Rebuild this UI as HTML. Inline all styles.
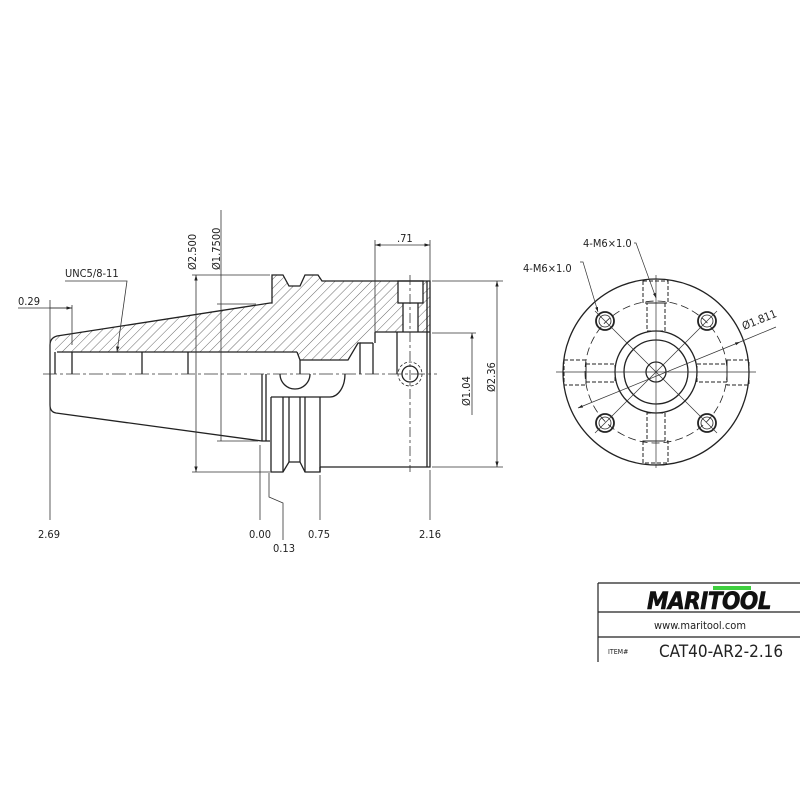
<!DOCTYPE html>
<html><head><meta charset="utf-8"><style>
html,body{margin:0;padding:0;background:#fff;}
svg{display:block;}
text{font-family:"DejaVu Sans Condensed","DejaVu Sans","Liberation Sans",sans-serif;fill:#222;}
</style></head><body>
<svg width="800" height="800" viewBox="0 0 800 800" xmlns="http://www.w3.org/2000/svg">
<defs>
<pattern id="h" patternUnits="userSpaceOnUse" width="6.5" height="6.5" patternTransform="rotate(45)">
<line x1="0" y1="0" x2="0" y2="6.5" stroke="#444" stroke-width="0.8"/>
</pattern>
<marker id="a" viewBox="0 0 10 10" refX="10" refY="5" markerWidth="7" markerHeight="7" orient="auto-start-reverse"><path d="M0,2 L10,5 L0,8 z" fill="#222"/></marker>
</defs>
<g fill="none" stroke="#222" stroke-width="1.3">
<path d="M55,336 L270,303 L272,303 L272,275 L283,275 L289,286 L300,286 L305,275 L318,275 L322,281 L398,281 L398,303 L403,303 L403,332 L375,332 L375,333 L360,343 L358,343 L348,360 L300,360 L297,352 L72,352 L55,352 Z" fill="url(#h)" stroke="none"/>
<path d="M418,303 L423,303 L423,281 L430,281 L430,332 L418,332 Z" fill="url(#h)" stroke="none"/>
<path d="M50,374 L50,345 Q50,338 57,336 L270,303 L272,303 L272,275 L283,275 L289,286 L300,286 L305,275 L318,275 L322,281 L430,281 L430,467 L320,467"/>
<path d="M50,374 L50,405 Q50,412 56,413 L262,441 L270,441"/>
<line x1="57" y1="352" x2="297" y2="352"/>
<path d="M297,352 L300,360 L348,360 L358,343 L360,343 L360,374"/>
<line x1="360" y1="343" x2="373" y2="343"/><line x1="373" y1="343" x2="373" y2="374"/>
<line x1="375" y1="332" x2="430" y2="332"/><line x1="375" y1="332" x2="375" y2="343"/>
<line x1="397" y1="332" x2="397" y2="374"/>
<rect x="398" y="281" width="25" height="22"/>
<line x1="403" y1="303" x2="403" y2="332"/><line x1="418" y1="303" x2="418" y2="332"/>
<line x1="55" y1="352" x2="55" y2="374"/><line x1="72" y1="352" x2="72" y2="374"/>
<line x1="142" y1="352" x2="142" y2="374"/><line x1="188" y1="352" x2="188" y2="374"/>
<line x1="300" y1="360" x2="300" y2="374"/>
<line x1="427" y1="281" x2="427" y2="467"/>
<circle cx="410" cy="374" r="8"/>
<circle cx="410" cy="374" r="12" stroke-dasharray="3 2" stroke-width="0.8"/>
<line x1="262" y1="374" x2="262" y2="441"/><line x1="266" y1="374" x2="266" y2="441"/>
<path d="M280,374 A15,15 0 0 0 310,374"/>
<path d="M271,397 L330,397 A15,23 0 0 0 345,374"/>
<path d="M271,397 L271,472 L283,472 L289,462 L300,462 L305,472 L320,472 L320,397"/>
<line x1="283" y1="397" x2="283" y2="472"/><line x1="289" y1="397" x2="289" y2="462"/>
<line x1="300" y1="397" x2="300" y2="462"/><line x1="305" y1="397" x2="305" y2="472"/>
<line x1="320" y1="467" x2="320" y2="472"/>
</g>
<line x1="43" y1="374" x2="437" y2="374" stroke="#333" stroke-width="0.8" stroke-dasharray="14 3 3 3"/>
<line x1="410" y1="275" x2="410" y2="472" stroke="#333" stroke-width="0.8" stroke-dasharray="10 3 3 3"/>
<g stroke="#333" stroke-width="0.8" fill="none">
<line x1="50" y1="300" x2="50" y2="520"/><line x1="72" y1="305" x2="72" y2="345"/>
<line x1="18" y1="308" x2="72" y2="308"/><line x1="50" y1="308" x2="72" y2="308" marker-end="url(#a)"/>
<line x1="260" y1="445" x2="260" y2="520"/><line x1="320" y1="475" x2="320" y2="520"/><line x1="430" y1="470" x2="430" y2="520"/>
<path d="M269,473 L269,497 L283,503 L283,540"/>
<line x1="192" y1="275" x2="270" y2="275"/><line x1="192" y1="472" x2="270" y2="472"/>
<line x1="196" y1="275" x2="196" y2="472" marker-start="url(#a)" marker-end="url(#a)"/>
<line x1="217" y1="304" x2="256" y2="304"/><line x1="217" y1="441" x2="258" y2="441"/>
<line x1="221" y1="210" x2="221" y2="441"/>
<line x1="375" y1="240" x2="375" y2="333"/><line x1="430" y1="240" x2="430" y2="281"/>
<line x1="375" y1="245" x2="430" y2="245" marker-start="url(#a)" marker-end="url(#a)"/>
<line x1="432" y1="281" x2="503" y2="281"/><line x1="432" y1="467" x2="503" y2="467"/>
<line x1="497" y1="281" x2="497" y2="467" marker-start="url(#a)" marker-end="url(#a)"/>
<line x1="432" y1="333" x2="476" y2="333"/>
<line x1="472" y1="333" x2="472" y2="415" marker-start="url(#a)"/>
<path d="M65,281 L127,281 L117,352" marker-end="url(#a)"/>
</g>
<g font-size="11">
<text x="18" y="305">0.29</text>
<text x="65" y="277">UNC5/8-11</text>
<text x="38" y="538">2.69</text>
<text x="249" y="538">0.00</text>
<text x="273" y="552">0.13</text>
<text x="308" y="538">0.75</text>
<text x="419" y="538">2.16</text>
<text x="397" y="242">.71</text>
<text transform="translate(196,270) rotate(-90)">Ø2.500</text>
<text transform="translate(220,270) rotate(-90)">Ø1.7500</text>
<text transform="translate(495,392) rotate(-90)">Ø2.36</text>
<text transform="translate(470,406) rotate(-90)">Ø1.04</text>
</g>
<g fill="none" stroke="#222" stroke-width="1.3">
<circle cx="656" cy="372" r="93"/>
<circle cx="656" cy="372" r="41"/>
<circle cx="656" cy="372" r="32"/>
<circle cx="656" cy="372" r="10"/>
<circle cx="656" cy="372" r="71" stroke-width="0.8" stroke-dasharray="8 4"/>
<g stroke-width="1.8">
<circle cx="605" cy="321" r="9"/><circle cx="707" cy="321" r="9"/><circle cx="605" cy="423" r="9"/><circle cx="707" cy="423" r="9"/>
</g>
<g stroke-width="0.8">
<circle cx="605" cy="321" r="6"/><circle cx="707" cy="321" r="6"/><circle cx="605" cy="423" r="6"/><circle cx="707" cy="423" r="6"/>
</g>
<g stroke-dasharray="4 2" stroke-width="1">
<rect x="643" y="281" width="25" height="22"/><rect x="647" y="303" width="18" height="28"/>
<rect x="643" y="441" width="25" height="22"/><rect x="647" y="413" width="18" height="28"/>
<rect x="564" y="360" width="22" height="25"/><rect x="586" y="364" width="29" height="18"/>
<rect x="727" y="360" width="22" height="25"/><rect x="697" y="364" width="30" height="18"/>
</g>
</g>
<g stroke="#333" stroke-width="0.7" fill="none">
<line x1="556" y1="372" x2="756" y2="372"/><line x1="656" y1="275" x2="656" y2="468"/>
<line x1="595" y1="311" x2="717" y2="433"/><line x1="717" y1="311" x2="595" y2="433"/>
<line x1="578" y1="408" x2="740" y2="342" marker-start="url(#a)" marker-end="url(#a)"/>
<line x1="740" y1="342" x2="776" y2="327"/>
<path d="M580,262 L583,262 L598,312" marker-end="url(#a)"/>
<path d="M634,243 L636,243 L656,298" marker-end="url(#a)"/>
</g>
<g font-size="11">
<text x="583" y="247">4-M6×1.0</text>
<text x="523" y="272">4-M6×1.0</text>
<text transform="translate(744,330) rotate(-22)">Ø1.811</text>
</g>
<g stroke="#222" stroke-width="1.2">
<line x1="598" y1="583" x2="800" y2="583"/>
<line x1="598" y1="583" x2="598" y2="662"/>
<line x1="598" y1="612" x2="800" y2="612"/>
<line x1="598" y1="637" x2="800" y2="637"/>
</g>
<rect x="713" y="586" width="38" height="4" fill="#3fcf3f"/>
<text x="709" y="609" font-family="Liberation Sans,sans-serif" font-size="24" font-weight="bold" font-style="italic" text-anchor="middle" style="fill:#111;letter-spacing:-0.5px;stroke:#111;stroke-width:0.6">MARITOOL</text>
<text x="700" y="629" font-family="Liberation Sans,sans-serif" font-size="11" text-anchor="middle">www.maritool.com</text>
<text x="608" y="654" font-family="Liberation Sans,sans-serif" font-size="7">ITEM#</text>
<text x="659" y="657" font-family="Liberation Sans,sans-serif" font-size="17">CAT40-AR2-2.16</text>
</svg>
</body></html>
